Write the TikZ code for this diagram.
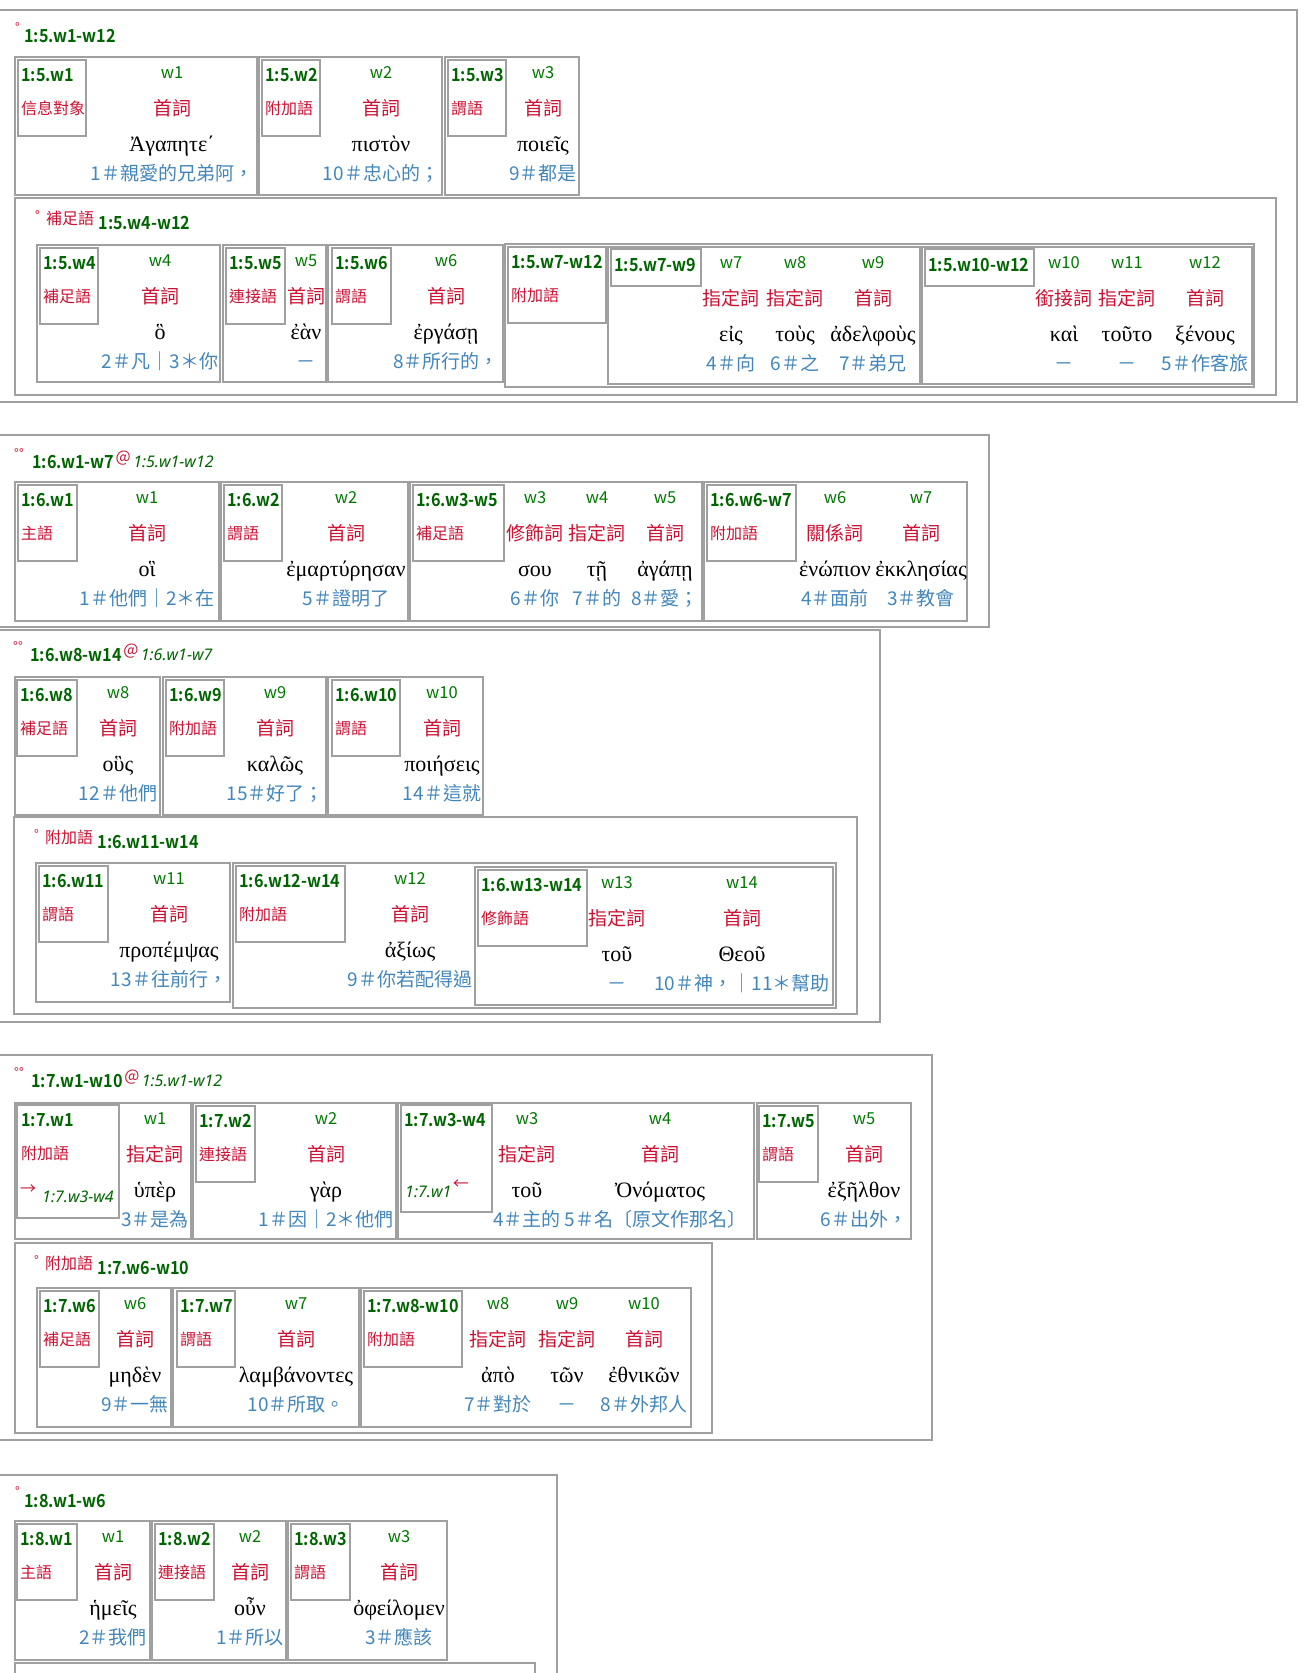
\documentclass[tikz,border=0pt]{standalone}
\usepackage{fontspec}
\setmainfont{Noto Sans CJK TC}[BoldFont={Noto Sans CJK TC Bold}]
\newfontfamily\bcnd{Noto Sans CJK TC Bold}[FakeStretch=0.9]
\newfontfamily\grk{Liberation Serif}
\newfontfamily\itf{Noto Sans}
\definecolor{bxc}{RGB}{160,160,160}
\definecolor{idg}{RGB}{0,100,0}
\definecolor{wg}{RGB}{0,120,0}
\definecolor{rr}{RGB}{204,17,51}
\definecolor{bl}{RGB}{66,134,186}
\newcounter{nc}
\tikzset{
  bx/.style={draw=bxc, line width=1.8pt},
  ttl/.style={inner sep=0pt, anchor=west, text=idg, font=\bcnd\fontsize{18}{20}\selectfont, text height=13pt, text depth=0pt},
  idt/.style={ttl},
  deg/.style={inner sep=0pt, anchor=west, text=rr, font=\fontsize{13}{13}\selectfont, text height=0pt, text depth=0pt},
  atx/.style={inner sep=0pt, anchor=west, text=rr, font=\fontsize{16}{16}\selectfont, text height=11.5pt, text depth=0pt},
  itx/.style={inner sep=0pt, anchor=west, text=idg, font=\itf\itshape\fontsize{16}{16}\selectfont, text height=11.5pt, text depth=0pt},
  lrole/.style={inner sep=0pt, anchor=west, text=rr, font=\fontsize{16}{16}\selectfont, text height=12pt, text depth=0pt},
  wt/.style={inner sep=0pt, text=wg, font=\fontsize{16.5}{17}\selectfont, text height=11pt, text depth=0pt},
  rt/.style={inner sep=0pt, text=rr, font=\fontsize{19}{19}\selectfont, text height=14.4pt, text depth=0pt},
  gk/.style={inner sep=0pt, text=black, font=\grk\fontsize{22}{22}\selectfont, text height=12pt, text depth=0pt},
  gl/.style={inner sep=0pt, text=bl, font=\fontsize{19}{19}\selectfont, text height=14.4pt, text depth=0pt},
}
\newcommand\mkrow[4]{\draw[bx] (#1,#2) rectangle (#3,#4);}
\newcommand\mklab[5]{%
  \draw[bx] (#1,#3+3) rectangle (#2,#3+79);
  \stepcounter{nc}%
  \node[idt] (i\arabic{nc}) at (#1+3,#3+18) {#4};
  \node[lrole] (r\arabic{nc}) at (#1+3,#3+51) {#5};}
\newcommand\mkidbox[4]{%
  \draw[bx] (#1,#3+2) rectangle (#2,#3+39);
  \stepcounter{nc}%
  \node[idt] (i\arabic{nc}) at (#1+3,#3+18) {#4};}
\newcommand\mkcol[6]{%
  \stepcounter{nc}%
  \node[wt] (w\arabic{nc}) at (#1,#2+16) {#3};
  \node[rt] (p\arabic{nc}) at (#1,#2+51) {#4};
  \node[gk] (g\arabic{nc}) at (#1,#2+88) {#5};
  \node[gl] (c\arabic{nc}) at (#1,#2+116) {#6};}
\newcommand\mkhead[5]{% x-deg y-top degs role id
  \stepcounter{nc}%
  \node[deg] (d\arabic{nc}) at (#1,#2+22) {#3};
  \node[lrole] (h\arabic{nc}) at (#1+11,#2+20) {#4};
  \node[ttl] (t\arabic{nc}) at ([xshift=4pt]h\arabic{nc}.east |- 0,#2+25) {#5};}
\newcommand\mktitle[6]{% x-deg top degs x-title title ref
  \stepcounter{nc}%
  \node[deg] (d\arabic{nc}) at (#1,#2+22) {#3};
  \node[ttl] (t\arabic{nc}) at (#4,#2+26) {#5};
  \node[atx] (a\arabic{nc}) at ([xshift=1pt,yshift=5pt]t\arabic{nc}.east) {@};
  \node[itx] (x\arabic{nc}) at ([xshift=2pt,yshift=-5pt]a\arabic{nc}.east) {#6};}
\begin{document}
\begin{tikzpicture}[x=1pt,y=-1pt]
\useasboundingbox (0,0) rectangle (1311,1673);
% ---------------- Block 1 ----------------
\mkrow{-3}{10}{1297}{402}
\node[deg] (d1a) at (15,32) {°};
\node[ttl] (t1a) at (24,36) {1:5.w1-w12};
\mkrow{15}{57}{257}{195}
\mklab{18}{86}{57}{1:5.w1}{信息對象}
\mkcol{172}{57}{w1}{首詞}{Ἀγαπητε΄}{1＃親愛的兄弟阿，}
\mkrow{259}{57}{442}{195}
\mklab{262}{320}{57}{1:5.w2}{附加語}
\mkcol{381}{57}{w2}{首詞}{πιστὸν}{10＃忠心的；}
\mkrow{445}{57}{579}{195}
\mklab{448}{506}{57}{1:5.w3}{謂語}
\mkcol{543}{57}{w3}{首詞}{ποιεῖς}{9＃都是}
\mkrow{15}{198}{1276}{395}
\mkhead{35}{198}{°}{補足語}{1:5.w4-w12}
\mkrow{37}{245}{220}{382}
\mklab{40}{98}{245}{1:5.w4}{補足語}
\mkcol{160}{245}{w4}{首詞}{ὃ}{2＃凡｜3＊你}
\mkrow{223}{245}{326}{382}
\mklab{226}{285}{245}{1:5.w5}{連接語}
\mkcol{306}{245}{w5}{首詞}{ἐὰν}{－}
\mkrow{328}{245}{503}{382}
\mklab{332}{391}{245}{1:5.w6}{謂語}
\mkcol{446}{245}{w6}{首詞}{ἐργάσῃ}{8＃所行的，}
\mkrow{505}{244}{1254}{387}
\mklab{508}{606}{244}{1:5.w7-w12}{附加語}
\mkrow{608}{247}{920}{384}
\mkidbox{611}{701}{247}{1:5.w7-w9}
\mkcol{731}{247}{w7}{指定詞}{εἰς}{4＃向}
\mkcol{795}{247}{w8}{指定詞}{τοὺς}{6＃之}
\mkcol{873}{247}{w9}{首詞}{ἀδελφοὺς}{7＃弟兄}
\mkrow{922}{247}{1252}{384}
\mkidbox{925}{1034}{247}{1:5.w10-w12}
\mkcol{1064}{247}{w10}{銜接詞}{καὶ}{－}
\mkcol{1127}{247}{w11}{指定詞}{τοῦτο}{－}
\mkcol{1205}{247}{w12}{首詞}{ξένους}{5＃作客旅}
% ---------------- Block 2 ----------------
\mkrow{-3}{435}{989}{627}
\mktitle{14}{436}{°°}{32}{1:6.w1-w7}{1:5.w1-w12}
\mkrow{15}{482}{219}{621}
\mklab{18}{77}{482}{1:6.w1}{主語}
\mkcol{147}{482}{w1}{首詞}{οἳ}{1＃他們｜2＊在}
\mkrow{221}{482}{408}{621}
\mklab{224}{282}{482}{1:6.w2}{謂語}
\mkcol{346}{482}{w2}{首詞}{ἐμαρτύρησαν}{5＃證明了}
\mkrow{410}{482}{702}{621}
\mklab{413}{504}{482}{1:6.w3-w5}{補足語}
\mkcol{535}{482}{w3}{修飾詞}{σου}{6＃你}
\mkcol{597}{482}{w4}{指定詞}{τῇ}{7＃的}
\mkcol{665}{482}{w5}{首詞}{ἀγάπῃ}{8＃愛；}
\mkrow{704}{482}{967}{621}
\mklab{707}{796}{482}{1:6.w6-w7}{附加語}
\mkcol{835}{482}{w6}{關係詞}{ἐνώπιον}{4＃面前}
\mkcol{921}{482}{w7}{首詞}{ἐκκλησίας}{3＃教會}
% ---------------- Block 3 ----------------
\mkrow{-3}{630}{880}{1022}
\mktitle{13}{629}{°°}{30}{1:6.w8-w14}{1:6.w1-w7}
\mkrow{15}{677}{160}{815}
\mklab{17}{77}{677}{1:6.w8}{補足語}
\mkcol{118}{677}{w8}{首詞}{οὓς}{12＃他們}
\mkrow{163}{677}{326}{815}
\mklab{166}{224}{677}{1:6.w9}{附加語}
\mkcol{275}{677}{w9}{首詞}{καλῶς}{15＃好了；}
\mkrow{328}{677}{483}{815}
\mklab{332}{400}{677}{1:6.w10}{謂語}
\mkcol{442}{677}{w10}{首詞}{ποιήσεις}{14＃這就}
\mkrow{14}{817}{857}{1014}
\mkhead{34}{817}{°}{附加語}{1:6.w11-w14}
\mkrow{36}{863}{230}{1002}
\mklab{39}{108}{863}{1:6.w11}{謂語}
\mkcol{169}{863}{w11}{首詞}{προπέμψας}{13＃往前行，}
\mkrow{233}{863}{836}{1008}
\mklab{236}{345}{863}{1:6.w12-w14}{附加語}
\mkcol{410}{863}{w12}{首詞}{ἀξίως}{9＃你若配得過}
\mkrow{475}{867}{833}{1005}
\mklab{478}{587}{867}{1:6.w13-w14}{修飾語}
\mkcol{617}{867}{w13}{指定詞}{τοῦ}{－}
\mkcol{742}{867}{w14}{首詞}{Θεοῦ}{10＃神，｜11＊幫助}
% ---------------- Block 4 ----------------
\mkrow{-3}{1055}{932}{1440}
\mktitle{14}{1055}{°°}{31}{1:7.w1-w10}{1:5.w1-w12}
\mkrow{15}{1103}{191}{1239}
\draw[bx] (17,1105) rectangle (119,1218);
\node[idt] (i71) at (21,1120) {1:7.w1};
\node[lrole] (r71) at (21,1153) {附加語};
\node[atx] (ar71) at (20,1189) {→};
\node[itx] (x71) at (42,1197) {1:7.w3-w4};
\mkcol{155}{1103}{w1}{指定詞}{ὑπὲρ}{3＃是為}
\mkrow{193}{1103}{396}{1239}
\mklab{196}{255}{1103}{1:7.w2}{連接語}
\mkcol{326}{1103}{w2}{首詞}{γὰρ}{1＃因｜2＊他們}
\mkrow{398}{1103}{754}{1239}
\draw[bx] (401,1105) rectangle (492,1212);
\node[idt] (i73) at (404,1120) {1:7.w3-w4};
\node[itx] (x73) at (405,1192) {1:7.w1};
\node[atx] (ar73) at ([xshift=1pt,yshift=8pt]x73.east) {←};
\mkcol{527}{1103}{w3}{指定詞}{τοῦ}{}
\mkcol{660}{1103}{w4}{首詞}{Ὀνόματος}{}
\node[gl, anchor=west] (c73) at (493,1219) {4＃主的 5＃名〔原文作那名〕};
\mkrow{757}{1103}{911}{1239}
\mklab{759}{818}{1103}{1:7.w5}{謂語}
\mkcol{864}{1103}{w5}{首詞}{ἐξῆλθον}{6＃出外，}
\mkrow{15}{1243}{712}{1433}
\mkhead{34}{1243}{°}{附加語}{1:7.w6-w10}
\mkrow{37}{1288}{171}{1427}
\mklab{40}{99}{1288}{1:7.w6}{補足語}
\mkcol{135}{1288}{w6}{首詞}{μηδὲν}{9＃一無}
\mkrow{173}{1288}{359}{1427}
\mklab{177}{235}{1288}{1:7.w7}{謂語}
\mkcol{296}{1288}{w7}{首詞}{λαμβάνοντες}{10＃所取。}
\mkrow{361}{1288}{691}{1427}
\mklab{364}{462}{1288}{1:7.w8-w10}{附加語}
\mkcol{498}{1288}{w8}{指定詞}{ἀπὸ}{7＃對於}
\mkcol{567}{1288}{w9}{指定詞}{τῶν}{－}
\mkcol{644}{1288}{w10}{首詞}{ἐθνικῶν}{8＃外邦人}
% ---------------- Block 5 ----------------
\mkrow{-3}{1475}{557}{1720}
\node[deg] (d5a) at (15,1496) {°};
\node[ttl] (t5a) at (24,1501) {1:8.w1-w6};
\mkrow{15}{1521}{150}{1660}
\mklab{17}{77}{1521}{1:8.w1}{主語}
\mkcol{113}{1521}{w1}{首詞}{ἡμεῖς}{2＃我們}
\mkrow{152}{1521}{286}{1660}
\mklab{155}{214}{1521}{1:8.w2}{連接語}
\mkcol{250}{1521}{w2}{首詞}{οὖν}{1＃所以}
\mkrow{288}{1521}{447}{1660}
\mklab{291}{350}{1521}{1:8.w3}{謂語}
\mkcol{399}{1521}{w3}{首詞}{ὀφείλομεν}{3＃應該}
\mkrow{15}{1663}{535}{1720}
\end{tikzpicture}
\end{document}
